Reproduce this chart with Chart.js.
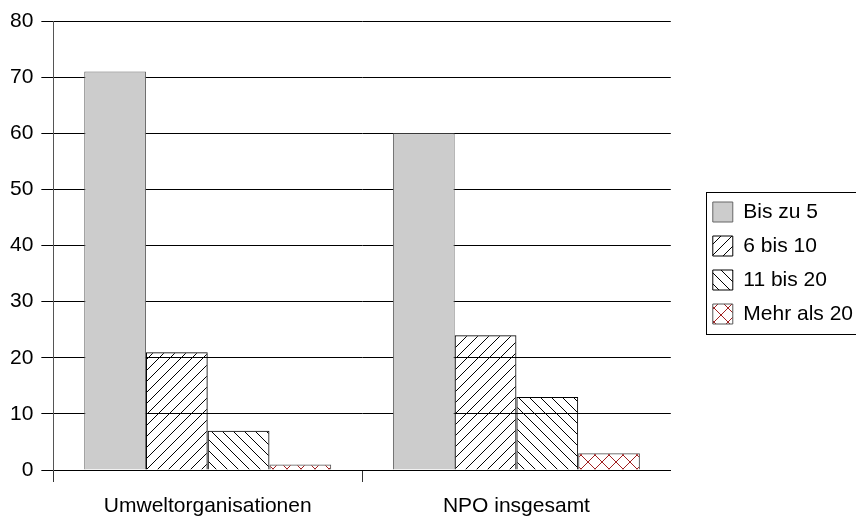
<!DOCTYPE html>
<html><head><meta charset="utf-8">
<script src="https://cdn.jsdelivr.net/npm/chart.js@4"></script>
<style>html,body{margin:0;padding:0;background:#fff}#wrap{width:856px;height:516px;position:relative}</style>
</head><body><div id="wrap"><canvas id="c"></canvas></div>
<script>
const categories = ['Umweltorganisationen', 'NPO insgesamt'];
const seriesLabels = ['Bis zu 5', '6 bis 10', '11 bis 20', 'Mehr als 20'];
const bisZu5 = [71, 60];
const sechsBis10 = [21, 24];
const elfBis20 = [7, 13];
const mehrAls20 = [1, 3];
const yMin = 0, yMax = 80, yStep = 10;

function makePattern(kind, size, color) {
  const c = document.createElement('canvas');
  c.width = size; c.height = size;
  const g = c.getContext('2d');
  g.strokeStyle = color; g.lineWidth = 1;
  g.beginPath();
  if (kind === 'up' || kind === 'cross') {
    g.moveTo(-1, size + 1); g.lineTo(size + 1, -1);
    g.moveTo(-1, 1); g.lineTo(1, -1);
    g.moveTo(size - 1, size + 1); g.lineTo(size + 1, size - 1);
  }
  if (kind === 'down' || kind === 'cross') {
    g.moveTo(-1, -1); g.lineTo(size + 1, size + 1);
    g.moveTo(size - 1, -1); g.lineTo(size + 1, 1);
    g.moveTo(-1, size - 1); g.lineTo(1, size + 1);
  }
  g.stroke();
  return g.createPattern(c, 'repeat');
}

Chart.defaults.font.family = "'Liberation Sans', Arial, sans-serif";
Chart.defaults.color = '#000';

const legendBorder = {
  id: 'legendBorder',
  afterDraw(chart) {
    const lg = chart.legend;
    if (!lg || !lg.legendHitBoxes || !lg.legendHitBoxes.length) return;
    const hb = lg.legendHitBoxes;
    const first = hb[0], last = hb[hb.length - 1];
    const ctx = chart.ctx;
    ctx.save();
    ctx.strokeStyle = '#000';
    ctx.lineWidth = 1;
    const x0 = Math.round(first.left - 7) + 0.5;
    const y0 = Math.round(first.top - 10) + 0.5;
    const y1 = Math.round(last.top + last.height + 9) + 0.5;
    ctx.strokeRect(x0, y0, 900 - x0, y1 - y0);
    ctx.restore();
  }
};

const ctx = document.getElementById('c').getContext('2d');
new Chart(ctx, {
  type: 'bar',
  data: {
    labels: categories,
    datasets: [
      { label: seriesLabels[0], data: bisZu5, backgroundColor: '#cccccc', borderColor: '#666666', borderWidth: 1 },
      { label: seriesLabels[1], data: sechsBis10, backgroundColor: makePattern('up', 11, '#000'), borderColor: '#000', borderWidth: 1 },
      { label: seriesLabels[2], data: elfBis20, backgroundColor: makePattern('down', 11, '#000'), borderColor: '#000', borderWidth: 1 },
      { label: seriesLabels[3], data: mehrAls20, backgroundColor: makePattern('cross', 14, '#a02020'), borderColor: '#555', borderWidth: 1 }
    ]
  },
  options: {
    responsive: true,
    maintainAspectRatio: false,
    animation: false,
    layout: { padding: { top: 8, left: 2, right: -7, bottom: -2 } },
    datasets: { bar: { categoryPercentage: 0.8, barPercentage: 1 } },
    scales: {
      x: {
        grid: { offset: true, drawOnChartArea: false, tickLength: 12,
                color: (c) => (c.type === 'tick' && c.index < categories.length ? '#333' : 'rgba(0,0,0,0)') },
        border: { color: '#000' },
        ticks: { color: '#000', font: { size: 21 }, padding: 12 },
        afterFit: (s) => { s.height = 48; }
      },
      y: {
        min: yMin, max: yMax,
        ticks: { stepSize: yStep, color: '#000', font: { size: 21 }, padding: 8 },
        grid: { color: '#000', tickLength: 12 },
        border: { color: '#555' },
        afterFit: (s) => { s.paddingTop = 21; }
      },
      yr: {
        position: 'right', display: true,
        grid: { display: false }, ticks: { display: false }, border: { display: false },
        afterFit: (s) => { s.width = 29; }
      }
    },
    plugins: {
      legend: {
        position: 'right',
        maxWidth: 300,
        labels: { boxWidth: 20, boxHeight: 20, padding: 13, color: '#000', font: { size: 21 } }
      },
      tooltip: { enabled: false }
    }
  },
  plugins: [legendBorder]
});
</script>
</body></html>
